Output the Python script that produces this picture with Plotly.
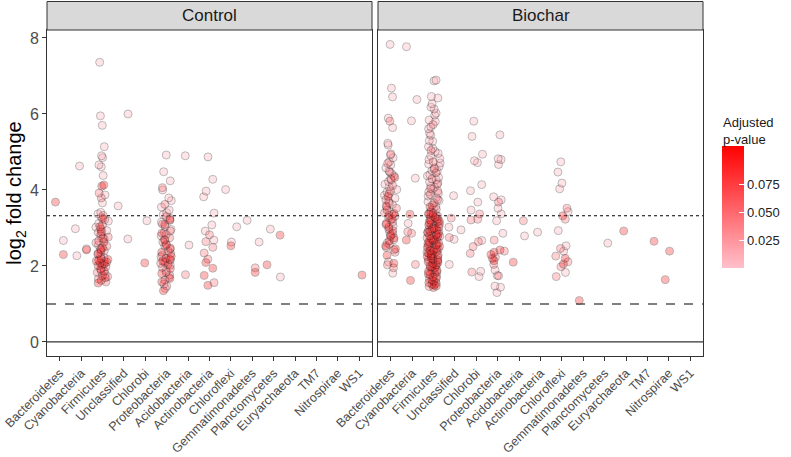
import plotly.graph_objects as go
from plotly.subplots import make_subplots

phyla = ["Bacteroidetes", "Cyanobacteria", "Firmicutes", "Unclassified", "Chlorobi",
         "Proteobacteria", "Acidobacteria", "Actinobacteria", "Chloroflexi",
         "Gemmatimonadetes", "Planctomycetes", "Euryarchaeota", "TM7", "Nitrospirae", "WS1"]
facets = ["Control", "Biochar"]
y_ticks = [0, 2, 4, 6, 8]
padj_ticks = [0.025, 0.050, 0.075]
padj_ticktext = ["0.025", "0.050", "0.075"]
padj_range = [0.0, 0.11]
line_zero = 0
line_fc2 = 1            # log2(2)
line_fc10 = 3.32        # log2(10)

# adjusted p-value assigned to each colour tier (read from point shades)
padj_low, padj_mid, padj_high = 0.01, 0.045, 0.088

# ---- Control: log2 fold change by phylum, grouped by p-value tier ----
control_low = {
    "Bacteroidetes": [2.67],
    "Cyanobacteria": [4.63, 2.98, 2.45, 2.27],
    "Firmicutes": [7.36, 5.95, 5.70, 5.14, 4.90, 4.85, 4.66, 4.61, 4.38, 3.87, 3.66, 3.41, 3.37,
                   3.29, 3.18, 3.12, 3.02, 2.93, 2.80, 2.71, 2.55, 2.36, 2.22, 1.95, 1.78],
    "Unclassified": [6.00, 3.58, 2.71],
    "Chlorobi": [3.19],
    "Proteobacteria": [4.92, 4.48, 4.24, 4.00, 3.79, 3.72, 3.55, 3.47, 3.40, 3.35, 3.26, 3.15,
                       3.04, 2.96, 2.88, 2.79, 2.70, 2.58, 2.44, 2.28, 2.02, 1.88, 1.70, 1.52, 1.41],
    "Acidobacteria": [4.90, 2.55],
    "Actinobacteria": [4.87, 4.28, 3.97, 3.82, 3.39, 3.08, 2.92, 2.68],
    "Chloroflexi": [4.01, 3.03, 2.63],
    "Gemmatimonadetes": [3.20, 2.63],
    "Planctomycetes": [2.97, 1.71],
}
control_mid = {
    "Firmicutes": [3.92, 3.79, 3.33, 3.22, 3.08, 2.97, 2.88, 2.84, 2.76, 2.66, 2.61, 2.52, 2.45,
                   2.40, 2.31, 2.26, 2.12, 2.04, 1.98, 1.88, 1.83, 1.72, 1.66, 1.58],
    "Proteobacteria": [4.06, 3.62, 3.30, 3.20, 3.10, 2.92, 2.83, 2.74, 2.63, 2.52, 2.39, 2.33,
                       2.24, 2.16, 2.07, 1.96, 1.83, 1.76, 1.63, 1.47],
    "Acidobacteria": [1.77],
    "Actinobacteria": [2.82, 2.64, 2.49, 2.34, 2.18, 1.56],
    "Gemmatimonadetes": [1.95],
}
control_high = {
    "Bacteroidetes": [3.68, 2.30],
    "Cyanobacteria": [2.42],
    "Firmicutes": [4.13, 4.10, 3.25, 3.03, 2.90, 2.73, 2.63, 2.48, 2.42, 2.33, 2.19, 2.17, 2.15,
                   2.13, 2.10, 2.08, 2.06, 2.01, 1.92, 1.86, 1.75, 1.69, 1.62, 1.55],
    "Chlorobi": [2.08],
    "Proteobacteria": [3.22, 3.09, 2.86, 2.68, 2.55, 2.47, 2.36, 2.25, 2.20, 2.17, 2.13, 2.10,
                       2.04, 1.93, 1.80, 1.67, 1.58, 1.35],
    "Actinobacteria": [2.09, 1.94, 1.75, 1.49],
    "Chloroflexi": [2.53],
    "Gemmatimonadetes": [1.83],
    "Planctomycetes": [2.81, 2.03],
    "WS1": [1.76],
}

# ---- Biochar ----
biochar_low = {
    "Bacteroidetes": [7.83, 6.68, 6.45, 5.89, 5.64, 5.23, 5.18, 4.92, 4.85, 4.74, 4.66, 4.58,
                      4.50, 4.43, 4.37, 4.30, 4.22, 4.15, 4.08, 4.01, 3.94, 3.86, 3.78, 3.70,
                      3.62, 3.55, 3.44, 3.36, 3.21, 3.05, 2.88, 2.61, 2.42, 2.11, 1.81],
    "Cyanobacteria": [7.77, 6.38, 5.82, 4.31, 3.12],
    "Firmicutes": [6.89, 6.87, 6.46, 6.42, 6.27, 6.18, 6.13, 6.02, 5.97, 5.84, 5.80, 5.66, 5.61,
                   5.49, 5.44, 5.30, 5.28, 5.14, 5.09, 5.01, 4.96, 4.90, 4.83, 4.80, 4.71, 4.68,
                   4.62, 4.55, 4.51, 4.49, 4.40, 4.37, 4.33, 4.27, 4.21, 4.19, 4.10, 4.07, 4.02,
                   3.95, 3.91, 3.84, 3.80, 3.72, 3.69, 3.57, 3.52, 3.46, 3.35, 3.27, 3.11, 2.98,
                   2.72, 2.49, 2.19, 1.91, 1.58],
    "Unclassified": [3.85, 3.02, 2.95, 2.70, 2.04],
    "Chlorobi": [5.81, 5.41, 4.94, 4.77, 4.72, 4.14, 3.98, 3.68, 3.47, 2.67, 1.86, 1.72],
    "Proteobacteria": [5.45, 4.82, 4.80, 4.67, 3.82, 3.74, 3.52, 3.37, 3.19, 2.86, 1.89, 1.75,
                       1.47, 1.44, 1.30],
    "Acidobacteria": [2.79],
    "Actinobacteria": [2.89],
    "Chloroflexi": [4.74, 4.47, 4.18, 4.03, 3.43, 2.93, 2.53, 2.39, 1.83],
    "Planctomycetes": [2.60],
}
biochar_mid = {
    "Bacteroidetes": [5.81, 4.95, 4.70, 4.47, 4.27, 4.12, 3.98, 3.90, 3.74, 3.66, 3.52, 3.47,
                      3.40, 3.31, 3.27, 3.16, 3.09, 2.97, 2.85, 2.78, 2.69, 2.57, 2.49, 2.36,
                      2.03, 1.95],
    "Cyanobacteria": [2.90, 2.86, 2.04],
    "Firmicutes": [5.72, 5.04, 4.74, 4.58, 4.45, 4.29, 4.15, 4.04, 3.97, 3.88, 3.75, 3.66, 3.60,
                   3.49, 3.42, 3.37, 3.31, 3.25, 3.21, 3.16, 3.10, 3.06, 3.01, 2.96, 2.91, 2.87,
                   2.83, 2.78, 2.74, 2.70, 2.66, 2.61, 2.57, 2.53, 2.48, 2.44, 2.40, 2.36, 2.31,
                   2.27, 2.23, 2.17, 2.13, 2.08, 2.02, 1.97, 1.88, 1.80, 1.73, 1.66, 1.54, 1.46],
    "Unclassified": [3.26, 2.75],
    "Chlorobi": [3.37, 3.23, 3.21, 2.64, 2.51, 2.33, 1.84],
    "Proteobacteria": [3.68, 2.68, 2.39, 2.23, 2.04, 1.74],
    "Acidobacteria": [3.19],
    "Chloroflexi": [3.52, 3.23, 2.46, 2.26, 2.11, 1.98, 1.72],
}
biochar_high = {
    "Bacteroidetes": [4.33, 3.83, 3.58, 3.38, 3.33, 3.24, 3.12, 3.02, 2.93, 2.81, 2.74, 2.66,
                      2.53, 2.45, 2.28, 2.07],
    "Cyanobacteria": [3.36, 2.68, 1.62],
    "Firmicutes": [3.55, 3.39, 3.36, 3.33, 3.28, 3.23, 3.20, 3.18, 3.14, 3.11, 3.08, 3.03, 2.99,
                   2.97, 2.94, 2.92, 2.89, 2.85, 2.81, 2.79, 2.77, 2.72, 2.70, 2.68, 2.64, 2.61,
                   2.59, 2.55, 2.51, 2.49, 2.46, 2.42, 2.40, 2.38, 2.34, 2.32, 2.29, 2.27, 2.25,
                   2.21, 2.18, 2.16, 2.11, 2.09, 2.06, 2.03, 2.00, 1.98, 1.95, 1.89, 1.86, 1.84,
                   1.79, 1.77, 1.71, 1.68, 1.64, 1.60, 1.56, 1.52, 1.50, 1.47, 1.43],
    "Proteobacteria": [2.42, 2.36, 2.30, 2.20, 2.14],
    "Acidobacteria": [2.10],
    "Chloroflexi": [3.32, 2.20, 2.05],
    "Gemmatimonadetes": [1.09],
    "Euryarchaeota": [2.92],
    "TM7": [2.65],
    "Nitrospirae": [2.39, 1.64],
}

PINK = (255, 192, 203)
RED = (255, 0, 0)


def padj_color(p):
    t = (p - padj_range[0]) / (padj_range[1] - padj_range[0])
    c = [round(PINK[i] + (RED[i] - PINK[i]) * t) for i in range(3)]
    return f"rgb({c[0]},{c[1]},{c[2]})"


FONT = "Liberation Sans, Arial, sans-serif"
W, H = 791, 457
# plotting-area edges in page pixels
PL, PR, PT, PB = 47, 703, 30, 356
ML, MR, MT, MB = PL, W - PR, PT, H - PB
PW = PR - PL
PH = PB - PT


def px_x(page_x):
    return (page_x - PL) / PW


def px_y(page_y):
    return (PB - page_y) / PH


fig = make_subplots(rows=1, cols=2, shared_yaxes=True)

facet_data = [
    [(control_low, padj_low), (control_mid, padj_mid), (control_high, padj_high)],
    [(biochar_low, padj_low), (biochar_mid, padj_mid), (biochar_high, padj_high)],
]

all_x, all_y, all_p = [], [], []
for fi, tiers in enumerate(facet_data):
    for d, p in tiers:
        xs, ys = [], []
        for ph in phyla:
            for v in d.get(ph, []):
                xs.append(ph)
                ys.append(v)
                all_x.append(ph)
                all_y.append(v)
                all_p.append(p)
        fig.add_trace(go.Box(
            x=xs, y=ys, boxpoints="all", jitter=0.8, pointpos=0,
            fillcolor="rgba(0,0,0,0)", line=dict(color="rgba(0,0,0,0)", width=0),
            whiskerwidth=0,
            marker=dict(color=padj_color(p), size=8, opacity=0.33,
                        line=dict(color="black", width=0.8)),
            showlegend=False, hoverinfo="y",
        ), row=1, col=fi + 1)

# invisible trace carrying the colour scale (legend colourbar)
fig.add_trace(go.Scatter(
    x=all_x, y=all_y, mode="markers", hoverinfo="skip", showlegend=False,
    marker=dict(color=all_p, colorscale=[[0, "rgb(255,192,203)"], [1, "rgb(255,0,0)"]],
                cmin=padj_range[0], cmax=padj_range[1], opacity=0, size=1, showscale=True,
                colorbar=dict(
                    x=px_x(722), xanchor="left", xpad=0,
                    y=px_y(207), yanchor="middle", ypad=0,
                    len=122, lenmode="pixels", thickness=22, thicknessmode="pixels",
                    outlinewidth=0, tickvals=padj_ticks, ticktext=padj_ticktext,
                    ticks="inside", ticklen=5, tickcolor="white", tickwidth=1,
                    tickfont=dict(family=FONT, size=13, color="#222222"),
                ))), row=1, col=1)

gap = 6
d1 = [0, (PW - gap) / 2 / PW]
d2 = [1 - (PW - gap) / 2 / PW, 1]

xaxis_common = dict(
    type="category", categoryorder="array", categoryarray=phyla,
    range=[-0.6, len(phyla) - 0.4], tickangle=-45, ticks="outside", ticklen=4,
    tickcolor="#333333", tickwidth=1,
    tickfont=dict(family=FONT, size=12.5, color="#4D4D4D"),
    showline=True, mirror=True, linecolor="#333333", linewidth=1,
    showgrid=False, zeroline=False, fixedrange=True, automargin=False,
)
fig.update_layout(
    xaxis=dict(domain=d1, **xaxis_common),
    xaxis2=dict(domain=d2, **xaxis_common),
    yaxis=dict(range=[-0.37, 8.21], tickvals=y_ticks, ticks="outside", ticklen=4,
               tickcolor="#333333", tickwidth=1, automargin=False,
               tickfont=dict(family=FONT, size=16, color="#4D4D4D"),
               title=dict(text="log<sub>2</sub> fold change",
                          font=dict(family=FONT, size=20, color="black"), standoff=2),
               showline=True, mirror=True, linecolor="#333333", linewidth=1,
               showgrid=False, zeroline=False),
    yaxis2=dict(range=[-0.37, 8.21], matches="y", showticklabels=False, ticks="",
                showline=True, mirror=True, linecolor="#333333", linewidth=1,
                showgrid=False, zeroline=False, automargin=False),
    boxmode="overlay", boxgap=0.0, boxgroupgap=0.2,
    width=W, height=H, margin=dict(l=ML, r=MR, t=MT, b=MB, autoexpand=False),
    plot_bgcolor="white", paper_bgcolor="white",
    font=dict(family=FONT),
)

shapes = []
annotations = []
for i, (xr, yr, dom) in enumerate([("x", "y", d1), ("x2", "y2", d2)]):
    shapes.append(dict(type="line", xref=f"{xr} domain", yref=yr, x0=0, x1=1,
                       y0=line_zero, y1=line_zero, line=dict(color="#333333", width=1.2), layer="below"))
    shapes.append(dict(type="line", xref=f"{xr} domain", yref=yr, x0=0, x1=1,
                       y0=line_fc2, y1=line_fc2, line=dict(color="black", width=1.1, dash="dash"), layer="below"))
    shapes.append(dict(type="line", xref=f"{xr} domain", yref=yr, x0=0, x1=1,
                       y0=line_fc10, y1=line_fc10, line=dict(color="black", width=1.1, dash="dot"), layer="below"))
    shapes.append(dict(type="rect", xref="paper", yref="paper", x0=dom[0], x1=dom[1],
                       y0=1, y1=px_y(1.5), fillcolor="#D9D9D9",
                       line=dict(color="#333333", width=1)))
    annotations.append(dict(text=facets[i], xref="paper", yref="paper",
                            x=(dom[0] + dom[1]) / 2, y=px_y(15.5), showarrow=False,
                            xanchor="center", yanchor="middle",
                            font=dict(family=FONT, size=17, color="#1A1A1A")))

annotations.append(dict(text="Adjusted<br>p-value", xref="paper", yref="paper",
                        x=px_x(721), y=px_y(113), xanchor="left", yanchor="top",
                        align="left", showarrow=False,
                        font=dict(family=FONT, size=13, color="#1A1A1A")))

fig.update_layout(shapes=shapes, annotations=annotations)
# remove the browser's default 8px page margin so the figure sits at the page origin
fig.write_html("out.html", config={"displayModeBar": False},
               post_script="document.body.style.margin='0';")
